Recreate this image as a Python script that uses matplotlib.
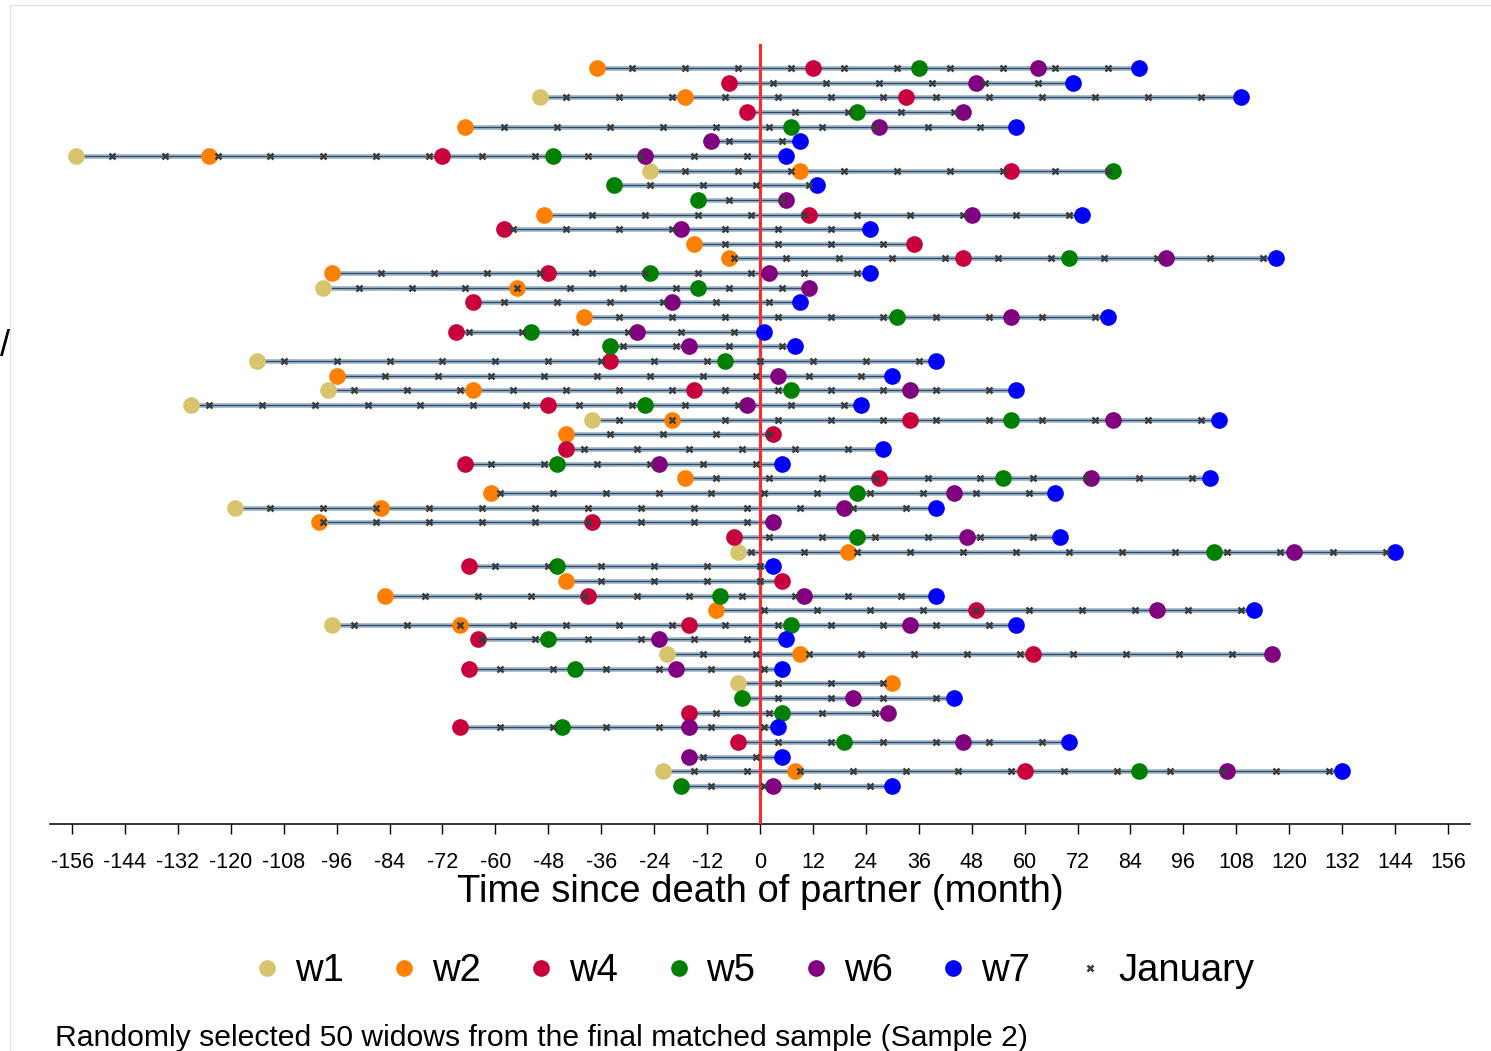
import numpy as np
import matplotlib
matplotlib.use("Agg")
import matplotlib.pyplot as plt
from matplotlib.lines import Line2D

plt.rcParams['font.family'] = ['Liberation Sans', 'DejaVu Sans']

nan = np.nan
# months since death of partner at each wave (one entry per widow, top to bottom)
w1 = [nan, nan, -50, nan, nan, nan, -155, -25, nan, nan,
      nan, nan, nan, nan, nan, -99, nan, nan, nan, nan,
      -114, nan, -98, -129, -38, nan, nan, nan, nan, nan,
      -119, nan, nan, -5, nan, nan, nan, nan, -97, nan,
      -21, nan, -5, nan, nan, nan, nan, nan, -22, nan]
w2 = [-37, nan, -17, nan, -67, nan, -125, 9, nan, nan,
      -49, nan, -15, -7, -97, -55, nan, -40, nan, nan,
      nan, -96, -65, nan, -20, -44, nan, nan, -17, -61,
      -86, -100, nan, 20, nan, -44, -85, -10, -68, nan,
      9, nan, 30, nan, nan, nan, nan, nan, 8, nan]
w4 = [12, -7, 33, -3, nan, nan, -72, 57, nan, nan,
      11, -58, 35, 46, -48, nan, -65, nan, -69, nan,
      -34, nan, -15, -48, 34, 3, -44, -67, 27, nan,
      nan, -38, -6, nan, -66, 5, -39, 49, -16, -64,
      62, -66, nan, nan, -16, -68, -5, nan, 60, nan]
w5 = [36, nan, nan, 22, 7, nan, -47, 80, -33, -14,
      nan, nan, nan, 70, -25, -14, nan, 31, -52, -34,
      -8, nan, 7, -26, 57, nan, nan, -46, 55, 22,
      nan, nan, 22, 103, -46, nan, -9, nan, 7, -48,
      nan, -42, nan, -4, 5, -45, 19, nan, 86, -18]
w6 = [63, 49, nan, 46, 27, -11, -26, nan, nan, 6,
      48, -18, nan, 92, 2, 11, -20, 57, -28, -16,
      nan, 4, 34, -3, 80, nan, nan, -23, 75, 44,
      19, 3, 47, 121, nan, nan, 10, 90, 34, -23,
      116, -19, nan, 21, 29, -16, 46, -16, 106, 3]
w7 = [86, 71, 109, nan, 58, 9, 6, nan, 13, nan,
      73, 25, nan, 117, 25, nan, 9, 79, 1, 8,
      40, 30, 58, 23, 104, nan, 28, 5, 102, 67,
      40, nan, 68, 144, 3, nan, 40, 112, 58, 6,
      nan, 5, nan, 44, nan, 4, 70, 5, 132, 30]
# month (mod 12, relative to death) at which each January falls
jan_phase = [7, 3, 4, 8, 2, 5, 9, 7, 11, 5,
             10, 4, 4, 6, 10, 5, 2, 4, 6, 5,
             0, 11, 4, 7, 4, 2, 8, 11, 2, 1,
             9, 9, 2, 10, 0, 0, 8, 1, 4, 9,
             11, 1, 4, 4, 2, 1, 4, 11, 9, 1]

wave_labels = ['w1', 'w2', 'w4', 'w5', 'w6', 'w7']
wave_colors = ['#d8c46c', '#ff8000', '#c8003c', '#008000', '#800080', '#0000ff']
waves = [w1, w2, w4, w5, w6, w7]
tick_vals = list(range(-156, 157, 12))
tick_labels = [str(v) for v in tick_vals]
caption = "Randomly selected 50 widows from the final matched sample (Sample 2)"

W, H = 1491, 1051
fig = plt.figure(figsize=(W / 100, H / 100), dpi=100)
ax = fig.add_axes([50 / W, 1 - 824 / H, 1420 / W, 780 / H])

n = len(w1)
rows = np.arange(n)
data = np.array(waves, dtype=float)  # shape (6, n)

for i in rows:
    vals = data[:, i]
    lo, hi = np.nanmin(vals), np.nanmax(vals)
    ax.plot([lo, hi], [i, i], color='#aabfd1', lw=3.6, solid_capstyle='butt', zorder=1)
    ax.plot([lo, hi], [i, i], color='#2e4a6b', lw=1.0, solid_capstyle='butt', zorder=2)

ax.axvline(0, color='#ff2a2a', lw=2.2, zorder=3)

for vals, c in zip(waves, wave_colors):
    ax.plot(vals, rows, ls='none', marker='o', markersize=12, color=c,
            markeredgewidth=0, zorder=4)

jx, jy = [], []
for i in rows:
    vals = data[:, i]
    lo, hi = np.nanmin(vals), np.nanmax(vals)
    first = lo + ((jan_phase[i] - lo) % 12)
    for m in np.arange(first, hi + 1e-9, 12):
        jx.append(m)
        jy.append(i)
ax.plot(jx, jy, ls='none', marker='x', markersize=4.5, mew=1.8, color='#3c3c3c', zorder=5)

ax.set_xlim(-161, 161)
ax.set_ylim(n - 1 + 2.594, -1.638)
for s in ['left', 'right', 'top']:
    ax.spines[s].set_visible(False)
ax.spines['bottom'].set_linewidth(1.1)
ax.set_yticks([])
ax.set_xticks(tick_vals)
ax.set_xticklabels(tick_labels, fontsize=15.5)
ax.tick_params(axis='x', length=7.2, width=1.0, pad=13)
ax.set_xlabel('Time since death of partner (month)', fontsize=27.5, labelpad=1)

handles = [Line2D([], [], ls='none', marker='o', markersize=12, color=c, markeredgewidth=0)
           for c in wave_colors]
handles.append(Line2D([], [], ls='none', marker='x', markersize=4.5, mew=1.8, color='#3c3c3c'))
labels = wave_labels + ['January']
fig.legend(handles, labels, loc='center', bbox_to_anchor=(753 / W, 1 - 971 / H), ncol=7,
           frameon=False, fontsize=27.5, handlelength=0.8, handletextpad=0.33,
           columnspacing=1.18, borderaxespad=0, borderpad=0)

fig.text(55 / W, 1 - 1046 / H, caption, fontsize=21.7, va='baseline', ha='left')
fig.text(0.0, 1 - 346 / H, '/', fontsize=26, va='center', ha='left')

fig.add_artist(Line2D([10 / W, 10 / W], [0, 1 - 5 / H], color='#e4e4e4', lw=1))
fig.add_artist(Line2D([10 / W, 1], [1 - 5 / H, 1 - 5 / H], color='#e4e4e4', lw=1))

fig.savefig('out.png', dpi=100)
